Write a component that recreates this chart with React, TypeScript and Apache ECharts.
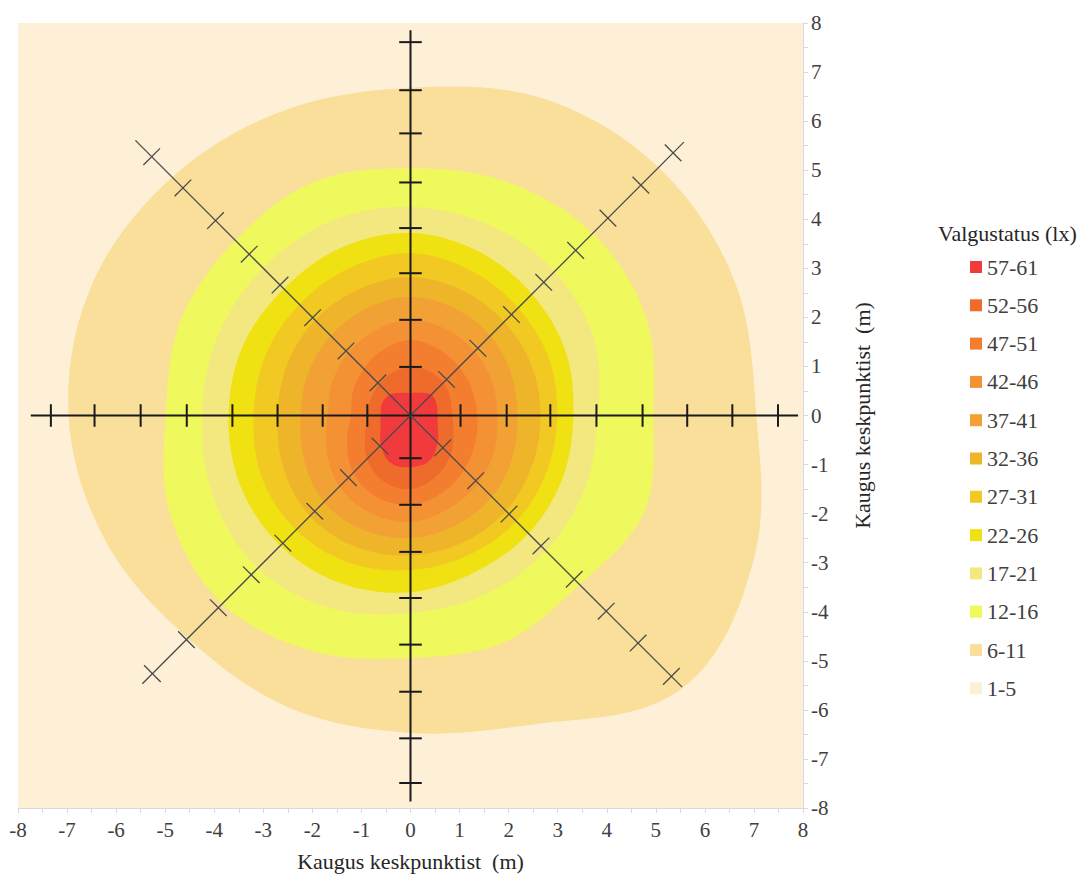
import React, { useEffect, useRef } from "react";
import * as echarts from "echarts";

// Axis extents (m)
const X_MIN = -8;
const X_MAX = 8;
const Y_MIN = -8;
const Y_MAX = 8;
const AXIS_INTERVAL = 1;

// Illuminance classes (lx), outermost first
const LEVELS = ["1-5", "6-11", "12-16", "17-21", "22-26", "27-31", "32-36", "37-41", "42-46", "47-51", "52-56", "57-61"];
const LEVEL_COLORS = ["#FDF0D6", "#F9DF9A", "#EFF95E", "#F3E77F", "#F0E112", "#F1C922", "#EEB52B", "#F2A234", "#F59135", "#F47E2F", "#EE6B2B", "#F03A3C"];

// Directions (degrees, counter-clockwise from +x) at which the outer boundary of each class was read
const BOUNDARY_ANGLES = [0, 22.5, 45, 67.5, 90, 112.5, 135, 157.5, 180, 202.5, 225, 247.5, 270, 292.5, 315, 337.5];

// Outer boundary distance from the centre (m) of each class, per direction
const R_6_11 = [7.05, 7.15, 7.15, 7.0, 6.68, 6.73, 6.87, 7.02, 6.97, 6.72, 6.42, 6.45, 6.47, 6.8, 7.85, 7.58];
const R_12_16 = [4.95, 5.2, 5.25, 5.15, 5.04, 5.15, 5.05, 5.07, 4.99, 5.3, 5.42, 5.2, 4.94, 5.0, 4.87, 5.15];
const R_17_21 = [3.82, 4.05, 4.15, 4.2, 4.25, 4.28, 4.25, 4.25, 4.25, 4.35, 4.4, 4.25, 4.02, 3.95, 3.9, 3.85];
const R_22_26 = [3.32, 3.42, 3.5, 3.62, 3.72, 3.7, 3.65, 3.7, 3.71, 3.75, 3.75, 3.7, 3.6, 3.45, 3.4, 3.35];
const R_27_31 = [2.99, 3.05, 3.1, 3.2, 3.31, 3.25, 3.2, 3.2, 3.2, 3.28, 3.3, 3.25, 3.15, 3.08, 3.05, 3.0];
const R_32_36 = [2.65, 2.67, 2.7, 2.76, 2.82, 2.78, 2.75, 2.72, 2.71, 2.8, 2.9, 2.9, 2.85, 2.8, 2.75, 2.68];
const R_37_41 = [2.18, 2.22, 2.3, 2.36, 2.42, 2.36, 2.3, 2.26, 2.24, 2.35, 2.5, 2.52, 2.5, 2.42, 2.35, 2.25];
const R_42_46 = [1.77, 1.8, 1.85, 1.9, 1.95, 1.88, 1.8, 1.73, 1.69, 1.85, 2.05, 2.15, 2.17, 2.05, 1.95, 1.85];
const R_47_51 = [1.36, 1.36, 1.4, 1.47, 1.54, 1.45, 1.35, 1.27, 1.22, 1.4, 1.65, 1.8, 1.82, 1.7, 1.55, 1.43];
const R_52_56 = [0.85, 0.88, 0.95, 0.98, 0.99, 0.95, 0.9, 0.88, 0.88, 1.0, 1.25, 1.45, 1.5, 1.35, 1.15, 0.95];
const R_57_61 = [0.55, 0.58, 0.6, 0.5, 0.46, 0.5, 0.6, 0.63, 0.61, 0.66, 0.85, 1.05, 1.05, 1.0, 0.78, 0.6];

const BOUNDARIES: (number[] | null)[] = [null, R_6_11, R_12_16, R_17_21, R_22_26, R_27_31, R_32_36, R_37_41, R_42_46, R_47_51, R_52_56, R_57_61];

// Measuring lines: direction (deg), length (m), measuring point distances (m)
const ARM_ANGLES = [0, 45, 90, 135, 180, 225, 270, 315];
const ARM_LENGTHS = [7.9, 7.88, 7.85, 7.93, 7.74, 7.73, 7.87, 7.83];
const ARM_POINTS_E = [1.02, 1.96, 2.85, 3.79, 4.73, 5.64, 6.56, 7.49];
const ARM_POINTS_NE = [1.04, 1.94, 2.91, 3.84, 4.76, 5.69, 6.64, 7.57];
const ARM_POINTS_N = [0.99, 1.95, 2.9, 3.82, 4.75, 5.75, 6.63, 7.61];
const ARM_POINTS_NW = [0.94, 1.86, 2.82, 3.76, 4.65, 5.62, 6.56, 7.46];
const ARM_POINTS_W = [0.88, 1.79, 2.71, 3.63, 4.56, 5.5, 6.44, 7.33];
const ARM_POINTS_SW = [0.88, 1.79, 2.76, 3.68, 4.59, 5.54, 6.46, 7.44];
const ARM_POINTS_S = [0.87, 1.82, 2.78, 3.72, 4.67, 5.63, 6.58, 7.49];
const ARM_POINTS_SE = [0.93, 1.88, 2.84, 3.76, 4.72, 5.64, 6.56, 7.52];
const ARM_POINTS = [ARM_POINTS_E, ARM_POINTS_NE, ARM_POINTS_N, ARM_POINTS_NW, ARM_POINTS_W, ARM_POINTS_SW, ARM_POINTS_S, ARM_POINTS_SE];

const AXIS_TITLE = "Kaugus keskpunktist  (m)";
const LEGEND_TITLE = "Valgustatus (lx)";

const FONT = "Times New Roman, Liberation Serif, DejaVu Serif, serif";
const TEXT_COLOR = "#404040";

function radiusAt(r: number[], t: number): number {
  const n = r.length;
  const i = Math.floor(t);
  const f = t - i;
  const p0 = r[(((i - 1) % n) + n) % n];
  const p1 = r[((i % n) + n) % n];
  const p2 = r[(((i + 1) % n) + n) % n];
  const p3 = r[(((i + 2) % n) + n) % n];
  return 0.5 * (2 * p1 + (-p0 + p2) * f + (2 * p0 - 5 * p1 + 4 * p2 - p3) * f * f + (-p0 + 3 * p1 - 3 * p2 + p3) * f * f * f);
}

function contourPoints(r: number[], api: any): number[][] {
  const pts: number[][] = [];
  const step = 360 / r.length;
  for (let deg = 0; deg < 360; deg += 2) {
    const rad = (deg * Math.PI) / 180;
    const rr = radiusAt(r, deg / step);
    pts.push(api.coord([rr * Math.cos(rad), rr * Math.sin(rad)]));
  }
  return pts;
}

export default function App() {
  const ref = useRef<HTMLDivElement>(null);

  useEffect(() => {
    if (!ref.current) return;
    const chart = echarts.init(ref.current, null, { renderer: "svg" });

    const levelSeries = LEVELS.map((name, idx) => ({
      type: "custom",
      name,
      coordinateSystem: "cartesian2d",
      data: [[0, 0]],
      itemStyle: { color: LEVEL_COLORS[idx] },
      silent: true,
      renderItem: (_params: any, api: any) => {
        const r = BOUNDARIES[idx];
        let points: number[][];
        if (!r) {
          points = [
            api.coord([X_MIN, Y_MAX]),
            api.coord([X_MAX, Y_MAX]),
            api.coord([X_MAX, Y_MIN]),
            api.coord([X_MIN, Y_MIN]),
          ];
        } else {
          points = contourPoints(r, api);
        }
        return {
          type: "polygon",
          shape: { points },
          style: { fill: LEVEL_COLORS[idx], stroke: null },
        };
      },
    }));

    const armSeries = {
      type: "custom",
      name: "arms",
      coordinateSystem: "cartesian2d",
      data: [[0, 0]],
      silent: true,
      z: 5,
      renderItem: (_params: any, api: any) => {
        const children: any[] = [];
        ARM_ANGLES.forEach((a, k) => {
          const rad = (a * Math.PI) / 180;
          const ux = Math.cos(rad);
          const uy = Math.sin(rad);
          const diag = a % 90 !== 0;
          const color = diag ? "#4a4a4a" : "#1a1a1a";
          const width = diag ? 1.3 : 2;
          const half = diag ? 0.24 : 0.23;
          const c0 = api.coord([0, 0]);
          const c1 = api.coord([ux * ARM_LENGTHS[k], uy * ARM_LENGTHS[k]]);
          children.push({
            type: "line",
            shape: { x1: c0[0], y1: c0[1], x2: c1[0], y2: c1[1] },
            style: { stroke: color, lineWidth: width },
          });
          ARM_POINTS[k].forEach((d) => {
            const px = ux * d;
            const py = uy * d;
            const a1 = api.coord([px - uy * half, py + ux * half]);
            const a2 = api.coord([px + uy * half, py - ux * half]);
            children.push({
              type: "line",
              shape: { x1: a1[0], y1: a1[1], x2: a2[0], y2: a2[1] },
              style: { stroke: color, lineWidth: width },
            });
          });
        });
        return { type: "group", children };
      },
    };

    const axisCommon = {
      type: "value",
      interval: AXIS_INTERVAL,
      splitLine: { show: false },
      axisLine: { show: true, onZero: false, lineStyle: { color: "#D9D9D9", width: 1 } },
      axisTick: { show: true, length: 5, lineStyle: { color: "#D9D9D9" } },
      minorTick: { show: true, splitNumber: 2, length: 5, lineStyle: { color: "#D9D9D9" } },
      axisLabel: { color: TEXT_COLOR, fontFamily: FONT, fontSize: 21, showMinLabel: true, showMaxLabel: true },
      name: AXIS_TITLE,
      nameLocation: "middle",
      nameTextStyle: { color: "#262626", fontFamily: FONT, fontSize: 22 },
    };

    chart.setOption({
      animation: false,
      backgroundColor: "#ffffff",
      textStyle: { fontFamily: FONT },
      grid: { left: 18, top: 23, width: 785, height: 785 },
      title: {
        text: LEGEND_TITLE,
        left: 933,
        top: 217,
        textStyle: { color: "#262626", fontFamily: FONT, fontSize: 22, fontWeight: "normal" },
      },
      legend: {
        orient: "vertical",
        left: 965,
        top: 251,
        icon: "rect",
        itemWidth: 12,
        itemHeight: 12,
        itemGap: 16.3,
        selectedMode: false,
        data: LEVELS.slice().reverse(),
        textStyle: { color: TEXT_COLOR, fontFamily: FONT, fontSize: 22, lineHeight: 22 },
      },
      xAxis: {
        ...axisCommon,
        min: X_MIN,
        max: X_MAX,
        position: "bottom",
        axisLabel: { ...axisCommon.axisLabel, margin: 11 },
        nameGap: 42,
      },
      yAxis: {
        ...axisCommon,
        min: Y_MIN,
        max: Y_MAX,
        position: "right",
        axisLabel: { ...axisCommon.axisLabel, margin: 8 },
        nameGap: 48,
        nameRotate: 90,
      },
      series: [...levelSeries, armSeries],
    });

    return () => chart.dispose();
  }, []);

  return (
    <div
      ref={ref}
      style={{ position: "fixed", left: 0, top: 0, width: 1078, height: 882 }}
    />
  );
}
